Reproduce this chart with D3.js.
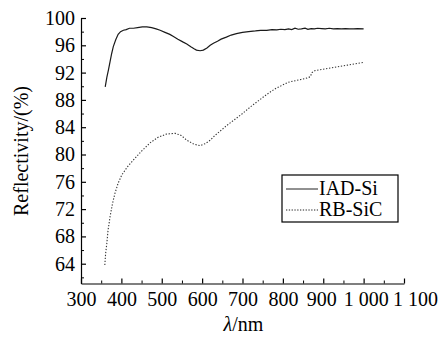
<!DOCTYPE html>
<html>
<head>
<meta charset="utf-8">
<script src="https://cdn.jsdelivr.net/npm/d3@7"></script>
</head>
<body style="margin:0">
<svg id="chart" width="444" height="337"></svg>
<script>
// wavelength (nm) and reflectivity (%)
const iadWavelength = [360, 364, 368, 372, 376, 380, 386, 392, 398, 405, 412, 420, 430, 440, 452, 463, 475, 486, 496, 508, 520, 529, 540, 552, 562, 572, 580, 586, 595, 603, 612, 620, 628, 638, 647, 660, 672, 685, 700, 715, 732, 745, 760, 773, 785, 795, 805, 814, 822, 830, 838, 846, 855, 862, 870, 878, 886, 896, 905, 915, 925, 935, 945, 955, 965, 975, 985, 1000];
const iadReflect = [89.9, 91.3, 92.4, 93.6, 94.8, 95.8, 96.8, 97.6, 98.0, 98.2, 98.3, 98.5, 98.5, 98.6, 98.7, 98.7, 98.6, 98.4, 98.2, 97.9, 97.6, 97.3, 96.9, 96.5, 96.2, 95.8, 95.5, 95.3, 95.2, 95.3, 95.6, 96.0, 96.3, 96.6, 96.9, 97.2, 97.5, 97.7, 97.9, 98.0, 98.1, 98.2, 98.2, 98.3, 98.25, 98.35, 98.3, 98.4, 98.3, 98.5, 98.35, 98.4, 98.5, 98.35, 98.45, 98.4, 98.5, 98.45, 98.4, 98.5, 98.4, 98.45, 98.4, 98.45, 98.4, 98.4, 98.45, 98.4];

const rbWavelength = [359, 361, 364, 367, 372, 378, 384, 392, 401, 415, 430, 450, 471, 490, 512, 533, 548, 562, 580, 595, 608, 620, 632, 644, 660, 680, 700, 720, 740, 760, 780, 800, 814, 830, 845, 860, 868, 872, 880, 900, 920, 940, 960, 980, 1000];
const rbReflect = [63.8, 65.5, 67.0, 68.9, 70.9, 72.8, 74.3, 75.8, 77.0, 78.2, 79.2, 80.5, 81.7, 82.5, 83.0, 83.1, 82.8, 82.1, 81.5, 81.3, 81.6, 82.1, 82.8, 83.4, 84.2, 85.1, 86.0, 87.0, 87.9, 88.8, 89.6, 90.2, 90.6, 90.8, 91.0, 91.2, 91.4, 92.0, 92.3, 92.5, 92.7, 92.9, 93.1, 93.3, 93.5];

const seriesNames = ["IAD-Si", "RB-SiC"];
const xTicks = [300, 400, 500, 600, 700, 800, 900, 1000, 1100];
const xTickLabels = ["300", "400", "500", "600", "700", "800", "900", "1 000", "1 100"];
const yTicks = [64, 68, 72, 76, 80, 84, 88, 92, 96, 100];

const width = 444, height = 337;
const margin = { top: 18, right: 40, bottom: 53.5, left: 81 };
const serif = "'Liberation Serif'";

const svg = d3.select("#chart");

const x = d3.scaleLinear().domain([300, 1100]).range([margin.left, width - margin.right]);
const y = d3.scaleLinear().domain([61.1, 100]).range([height - margin.bottom, margin.top]);

// minor ticks
const minorX = d3.range(350, 1100, 100);
const minorY = d3.range(62, 100, 4);

const xAxis = svg.append("g").attr("transform", `translate(0,${height - margin.bottom})`)
  .call(d3.axisBottom(x).tickValues(xTicks).tickSizeInner(-5).tickSizeOuter(0).tickPadding(8)
    .tickFormat((d, i) => xTickLabels[i]));
xAxis.append("g").selectAll("line").data(minorX).join("line")
  .attr("x1", (d) => x(d) + 0.5).attr("x2", (d) => x(d) + 0.5).attr("y1", 0).attr("y2", -3)
  .attr("stroke", "#000");
// the wide labels at the right end are nudged apart, as in the source figure
xAxis.selectAll(".tick text").attr("dx", (d) => d === 1100 ? 11 : d === 1000 ? 2 : d === 900 ? -2 : 0);

const yAxis = svg.append("g").attr("transform", `translate(${margin.left},0)`)
  .call(d3.axisLeft(y).tickValues(yTicks).tickSizeInner(-5).tickSizeOuter(0).tickPadding(6));
yAxis.append("g").selectAll("line").data(minorY).join("line")
  .attr("y1", (d) => y(d) + 0.5).attr("y2", (d) => y(d) + 0.5).attr("x1", 0).attr("x2", 3)
  .attr("stroke", "#000");

svg.selectAll("g").attr("font-family", null);
svg.selectAll(".tick text").attr("font-size", 20).attr("fill", "#000").style("font-family", serif);
svg.selectAll(".domain, .tick line").attr("stroke", "#000").attr("stroke-width", 1.2);

const line = d3.line().x((d) => x(d[0])).y((d) => y(d[1]));

svg.append("path").datum(d3.zip(iadWavelength, iadReflect))
  .attr("fill", "none").attr("stroke", "#1a1a1a").attr("stroke-width", 1.2).attr("d", line);
svg.append("path").datum(d3.zip(rbWavelength, rbReflect))
  .attr("fill", "none").attr("stroke", "#333").attr("stroke-width", 1.1)
  .attr("stroke-dasharray", "1.3 1.7").attr("d", line);

// axis titles
svg.append("text").attr("transform", "translate(28,151) rotate(-90)")
  .attr("text-anchor", "middle").attr("font-size", 20).style("font-family", serif).text("Reflectivity/(%)");
const xt = svg.append("text").attr("x", x(700) + 1).attr("y", 331)
  .attr("text-anchor", "middle").attr("font-size", 20).style("font-family", serif);
xt.append("tspan").attr("font-style", "italic").text("λ");
xt.append("tspan").text("/nm");

// legend
const legend = svg.append("g").attr("transform", "translate(282,175)");
legend.append("rect").attr("width", 116).attr("height", 47)
  .attr("fill", "#fff").attr("stroke", "#000").attr("stroke-width", 1.2);
seriesNames.forEach((name, i) => {
  const ly = 14 + i * 21;
  legend.append("line").attr("x1", 4).attr("x2", 36).attr("y1", ly).attr("y2", ly)
    .attr("stroke", "#222").attr("stroke-width", 1)
    .attr("stroke-dasharray", i === 1 ? "1.3 1.5" : null);
  legend.append("text").attr("x", 37).attr("y", ly + 6).attr("font-size", 20)
    .style("font-family", serif).text(name);
});
</script>
</body>
</html>
